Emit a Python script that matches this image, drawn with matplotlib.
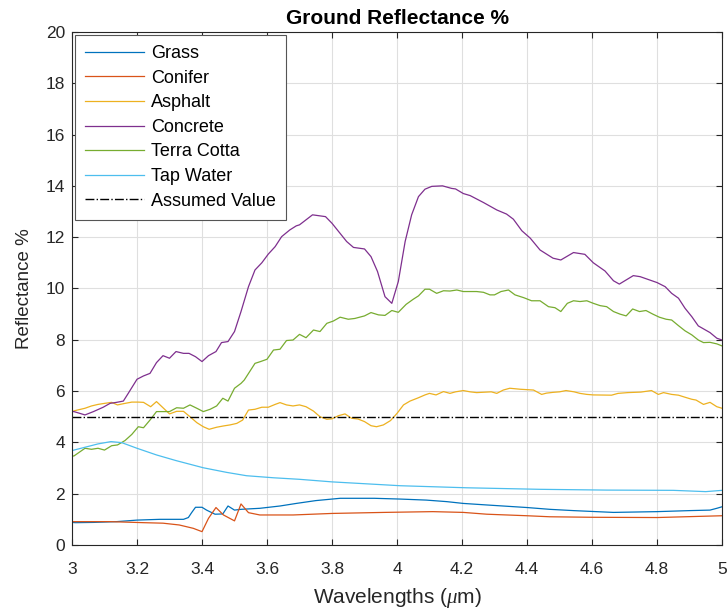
import numpy as np
import matplotlib
matplotlib.use("Agg")
import matplotlib.pyplot as plt

# ========================
# ДАННЫЕ
# ========================
grass_x = [3.00, 3.01, 3.066, 3.137, 3.20, 3.27, 3.343, 3.358, 3.368, 3.38, 3.40, 3.414,
           3.44, 3.464, 3.48, 3.50, 3.52, 3.578, 3.64, 3.69, 3.75, 3.825, 3.93, 4.01,
           4.09, 4.153, 4.204, 4.276, 4.40, 4.47, 4.543, 4.666, 4.80, 4.90, 4.963, 4.984, 5.00]
grass_y = [0.88, 0.87, 0.88, 0.91, 0.97, 1.00, 1.00, 1.07, 1.26, 1.47, 1.47, 1.36,
           1.20, 1.21, 1.52, 1.36, 1.39, 1.43, 1.52, 1.62, 1.73, 1.82, 1.82, 1.79,
           1.75, 1.69, 1.62, 1.56, 1.46, 1.39, 1.34, 1.27, 1.30, 1.34, 1.36, 1.43, 1.49]

conifer_x = [3.00, 3.117, 3.22, 3.28, 3.33, 3.373, 3.40, 3.42, 3.443, 3.466, 3.50, 3.52,
             3.543, 3.578, 3.68, 3.80, 3.96, 4.11, 4.204, 4.276, 4.40, 4.47, 4.60, 4.80, 5.00]
conifer_y = [0.91, 0.91, 0.87, 0.85, 0.78, 0.65, 0.52, 1.04, 1.46, 1.17, 0.94, 1.60,
             1.26, 1.17, 1.17, 1.23, 1.27, 1.30, 1.27, 1.20, 1.14, 1.10, 1.08, 1.07, 1.14]

asphalt_x = [3.00, 3.01, 3.04, 3.06, 3.08, 3.10, 3.122, 3.14, 3.163, 3.184, 3.204, 3.22,
             3.242, 3.26, 3.28, 3.30, 3.322, 3.343, 3.363, 3.384, 3.404, 3.422, 3.445, 3.466,
             3.486, 3.507, 3.525, 3.543, 3.563, 3.584, 3.604, 3.625, 3.64, 3.66, 3.68, 3.70,
             3.72, 3.743, 3.763, 3.784, 3.80, 3.82, 3.84, 3.86, 3.88, 3.90, 3.92, 3.937,
             3.958, 3.98, 4.00, 4.02, 4.04, 4.066, 4.086, 4.10, 4.12, 4.143, 4.163, 4.18,
             4.204, 4.225, 4.245, 4.29, 4.307, 4.327, 4.347, 4.38, 4.42, 4.445, 4.46, 4.48,
             4.50, 4.52, 4.545, 4.563, 4.584, 4.604, 4.66, 4.68, 4.71, 4.75, 4.783, 4.804,
             4.82, 4.845, 4.866, 4.886, 4.907, 4.92, 4.943, 4.963, 4.984, 5.00]
asphalt_y = [5.20, 5.24, 5.33, 5.42, 5.48, 5.52, 5.56, 5.46, 5.52, 5.57, 5.57, 5.56,
             5.39, 5.59, 5.35, 5.11, 5.21, 5.21, 5.00, 4.77, 4.61, 4.51, 4.59, 4.64,
             4.68, 4.74, 4.87, 5.26, 5.29, 5.37, 5.37, 5.48, 5.55, 5.46, 5.42, 5.46,
             5.39, 5.22, 5.00, 4.90, 4.92, 5.04, 5.11, 4.94, 4.91, 4.81, 4.65, 4.61,
             4.68, 4.85, 5.13, 5.46, 5.61, 5.74, 5.85, 5.91, 5.85, 5.98, 5.91, 5.97,
             6.02, 5.97, 5.94, 5.97, 5.91, 6.04, 6.11, 6.07, 6.04, 5.87, 5.92, 5.95,
             5.97, 6.02, 5.97, 5.91, 5.87, 5.85, 5.84, 5.91, 5.94, 5.96, 6.02, 5.87,
             5.94, 5.87, 5.84, 5.76, 5.68, 5.65, 5.48, 5.56, 5.39, 5.33]

concrete_x = [3.00, 3.006, 3.04, 3.066, 3.096, 3.117, 3.137, 3.158, 3.173, 3.20, 3.22, 3.24,
              3.26, 3.28, 3.30, 3.32, 3.343, 3.36, 3.38, 3.40, 3.42, 3.443, 3.46, 3.48,
              3.50, 3.52, 3.543, 3.563, 3.584, 3.604, 3.625, 3.645, 3.67, 3.69, 3.70, 3.74,
              3.78, 3.80, 3.845, 3.866, 3.90, 3.92, 3.94, 3.963, 3.984, 4.004, 4.025, 4.045,
              4.066, 4.086, 4.107, 4.14, 4.168, 4.18, 4.204, 4.225, 4.266, 4.307, 4.337, 4.358,
              4.384, 4.41, 4.44, 4.48, 4.504, 4.543, 4.578, 4.604, 4.64, 4.666, 4.684, 4.727,
              4.748, 4.80, 4.825, 4.845, 4.866, 4.886, 4.907, 4.927, 4.963, 4.984, 5.00]
concrete_y = [5.20, 5.20, 5.07, 5.20, 5.37, 5.52, 5.56, 5.61, 5.91, 6.46, 6.59, 6.69,
              7.11, 7.38, 7.28, 7.54, 7.47, 7.47, 7.34, 7.15, 7.38, 7.54, 7.89, 7.93,
              8.32, 9.10, 10.07, 10.72, 11.00, 11.34, 11.63, 12.02, 12.28, 12.44, 12.48, 12.87,
              12.80, 12.54, 11.83, 11.60, 11.54, 11.24, 10.66, 9.68, 9.42, 10.27, 11.83, 12.87,
              13.58, 13.87, 13.98, 14.00, 13.90, 13.88, 13.70, 13.62, 13.35, 13.06, 12.90, 12.70,
              12.25, 11.96, 11.50, 11.18, 11.11, 11.40, 11.33, 11.00, 10.68, 10.30, 10.17, 10.50,
              10.46, 10.23, 10.07, 9.81, 9.62, 9.23, 8.90, 8.54, 8.28, 8.06, 7.99]

terra_x = [3.00, 3.006, 3.04, 3.06, 3.08, 3.10, 3.122, 3.14, 3.163, 3.184, 3.204, 3.22,
           3.24, 3.26, 3.28, 3.30, 3.322, 3.343, 3.363, 3.384, 3.404, 3.425, 3.445, 3.464,
           3.48, 3.50, 3.52, 3.53, 3.563, 3.58, 3.60, 3.62, 3.64, 3.66, 3.68, 3.70,
           3.72, 3.743, 3.763, 3.784, 3.804, 3.825, 3.85, 3.87, 3.90, 3.92, 3.943, 3.963,
           3.984, 4.004, 4.028, 4.05, 4.066, 4.086, 4.10, 4.122, 4.143, 4.163, 4.184, 4.204,
           4.245, 4.266, 4.286, 4.30, 4.32, 4.343, 4.363, 4.39, 4.414, 4.44, 4.466, 4.486,
           4.504, 4.524, 4.543, 4.563, 4.584, 4.604, 4.625, 4.645, 4.666, 4.686, 4.705, 4.725,
           4.746, 4.766, 4.787, 4.807, 4.828, 4.845, 4.866, 4.886, 4.907, 4.927, 4.943, 4.963,
           4.984, 5.00]
terra_y = [3.47, 3.47, 3.77, 3.73, 3.77, 3.70, 3.87, 3.90, 4.07, 4.31, 4.61, 4.57,
           4.87, 5.20, 5.20, 5.20, 5.35, 5.33, 5.46, 5.33, 5.20, 5.29, 5.42, 5.72,
           5.61, 6.11, 6.30, 6.43, 7.08, 7.15, 7.24, 7.60, 7.63, 7.97, 7.99, 8.21,
           8.08, 8.38, 8.32, 8.64, 8.73, 8.88, 8.80, 8.83, 8.93, 9.06, 8.97, 8.95,
           9.14, 9.07, 9.38, 9.58, 9.71, 9.97, 9.97, 9.81, 9.91, 9.90, 9.94, 9.88,
           9.88, 9.85, 9.75, 9.75, 9.88, 9.94, 9.75, 9.64, 9.52, 9.52, 9.29, 9.25,
           9.10, 9.42, 9.52, 9.49, 9.52, 9.42, 9.33, 9.29, 9.10, 9.00, 8.93, 9.20,
           9.10, 9.14, 9.00, 8.88, 8.80, 8.77, 8.55, 8.35, 8.19, 7.99, 7.89, 7.90,
           7.84, 7.76]

water_x = [3.00, 3.04, 3.08, 3.12, 3.153, 3.20, 3.26, 3.32, 3.404, 3.476, 3.537, 3.62,
           3.70, 3.80, 4.01, 4.214, 4.44, 4.645, 4.85, 4.95, 5.00]
water_y = [3.68, 3.81, 3.94, 4.03, 3.99, 3.77, 3.51, 3.29, 3.01, 2.83, 2.70, 2.62,
           2.56, 2.46, 2.31, 2.23, 2.17, 2.14, 2.13, 2.08, 2.13]

assumed_value = 5

series_names = ['Grass', 'Conifer', 'Asphalt', 'Concrete', 'Terra Cotta', 'Tap Water']
series_colors = ['#0072BD', '#D95319', '#EDB120', '#7E2F8E', '#77AC30', '#4DBEEE']
xtick_labels = ['3', '3.2', '3.4', '3.6', '3.8', '4', '4.2', '4.4', '4.6', '4.8', '5']

# ========================
# СТИЛЬ
# ========================
plt.rcParams['font.family'] = ['Liberation Sans', 'DejaVu Sans']
plt.rcParams['mathtext.fontset'] = 'custom'
plt.rcParams['mathtext.it'] = 'Liberation Serif:italic'
plt.rcParams['font.size'] = 12

fig = plt.figure(figsize=(7.28, 6.14), dpi=100)
ax = fig.add_axes([0.0989, 0.1124, 0.8929, 0.8356])

data = [(grass_x, grass_y), (conifer_x, conifer_y), (asphalt_x, asphalt_y),
        (concrete_x, concrete_y), (terra_x, terra_y), (water_x, water_y)]
for (xs, ys), name, col in zip(data, series_names, series_colors):
    ax.plot(xs, ys, color=col, linewidth=0.9, label=name)

ax.plot([3, 5], [assumed_value, assumed_value], color='black', linestyle='-.',
        linewidth=1.0, label='Assumed Value')

ax.set_xlim(3, 5)
ax.set_ylim(0, 20)
ax.set_xticks(np.arange(3, 5.01, 0.2))
ax.set_xticklabels(xtick_labels)
ax.set_yticks(np.arange(0, 21, 2))

ax.grid(True, color='#dfdfdf', linewidth=0.8)
ax.set_axisbelow(True)
ax.tick_params(direction='in', top=True, right=True, length=4, color='#262626',
               labelsize=12.5, labelcolor='#262626')
ax.tick_params(axis='x', pad=12)
ax.tick_params(axis='y', pad=5)
for sp in ax.spines.values():
    sp.set_color('#262626')
    sp.set_linewidth(0.8)

ax.set_title('Ground Reflectance %', fontsize=15, fontweight='bold', pad=6)
ax.set_xlabel(r'Wavelengths ($\mu$m)', fontsize=15, color='#262626', labelpad=7)
ax.set_ylabel('Reflectance %', fontsize=13.5, color='#262626', labelpad=9)

leg = ax.legend(loc='upper left', fontsize=13, frameon=True, fancybox=False,
                edgecolor='#555555', framealpha=1, handlelength=3.27,
                handletextpad=0.37, borderpad=0.55,
                borderaxespad=0.18, labelspacing=0.42)
leg.get_frame().set_linewidth(0.8)

fig.savefig('out.png', dpi=100)
